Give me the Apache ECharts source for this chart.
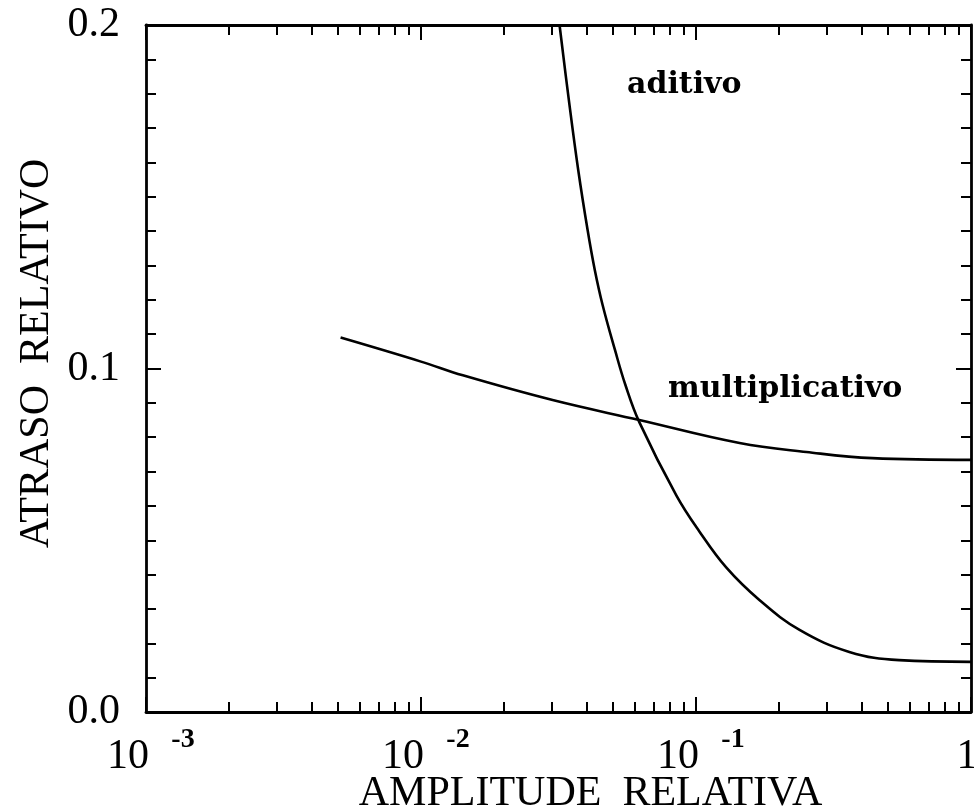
<!DOCTYPE html>
<html><head><meta charset="utf-8">
<script src="https://cdn.jsdelivr.net/npm/echarts@6/dist/echarts.min.js"></script>
<style>html,body{margin:0;padding:0;background:#fff}#c{width:974px;height:812px}</style>
</head><body><div id="c"></div>
<script>
// Data
const aditivoX = [0.0319, 0.03448, 0.0373, 0.04035, 0.04285, 0.04575, 0.05074, 0.05538, 0.0622, 0.0849, 0.103, 0.129, 0.170, 0.238, 0.361, 0.548, 1.0];
const aditivoY = [0.200, 0.1782, 0.1578, 0.1403, 0.1287, 0.1185, 0.1054, 0.0952, 0.0844, 0.063, 0.0525, 0.042, 0.0326, 0.0239, 0.0175, 0.0151, 0.0146];
const multX = [0.0051, 0.01, 0.0142, 0.0301, 0.0622, 0.144, 0.252, 0.438, 1.0];
const multY = [0.109, 0.102, 0.098, 0.0908, 0.085, 0.0783, 0.0757, 0.0739, 0.0734];
const xMajorTicks = [0.001, 0.01, 0.1, 1];
const xTickBases = ['10', '10', '10', '1'];
const xExponents = ['-3', '-2', '-1', ''];
const xMinorTicks = [0.002,0.003,0.004,0.005,0.006,0.007,0.008,0.009,
                     0.02,0.03,0.04,0.05,0.06,0.07,0.08,0.09,
                     0.2,0.3,0.4,0.5,0.6,0.7,0.8,0.9];
const yTickLabels = ['0.0', '0.1', '0.2'];
const seriesNames = ['aditivo', 'multiplicativo'];

const chart = echarts.init(document.getElementById('c'), null, {renderer: 'canvas'});
const serif = 'Liberation Serif';
const lineStyleAxis = {color: '#000', width: 2.8};

function tickIndex(v) {
  return xMajorTicks.findIndex(t => Math.abs(t - v) / t < 1e-6);
}
function baseLabel(v) {
  const i = tickIndex(v);
  if (i < 0) return '';
  return xExponents[i] ? '{n|' + xTickBases[i] + '}' : '{o|' + xTickBases[i] + '}';
}
function expLabel(v) {
  const i = tickIndex(v);
  return i < 0 ? '' : xExponents[i];
}

function xAxisDef(pos, ticks, len, kind) {
  const isMain = kind === 'main';
  let label = {show: false};
  if (pos === 'bottom' && kind === 'main') {
    label = {
      show: true, customValues: xMajorTicks, margin: 24, hideOverlap: false,
      formatter: baseLabel,
      rich: {
        n: {fontFamily: serif, fontSize: 42, color: '#000', lineHeight: 42, padding: [0, 36, 0, 0]},
        o: {fontFamily: serif, fontSize: 42, color: '#000', lineHeight: 42, padding: [0, 8, 0, 0]}
      }
    };
  } else if (pos === 'bottom' && kind === 'minor') {
    label = {
      show: true, customValues: xMajorTicks, margin: 14, hideOverlap: false,
      formatter: expLabel,
      fontFamily: serif, fontSize: 28, fontWeight: 'bold', color: '#000', lineHeight: 28,
      padding: [0, 0, 0, 74]
    };
  }
  return {
    type: 'log', logBase: 10, min: 0.001, max: 1, position: pos,
    axisLine: {show: isMain, lineStyle: lineStyleAxis, onZero: false},
    axisTick: {show: true, inside: true, length: len, customValues: ticks, lineStyle: {color: '#000', width: 2}},
    axisLabel: label,
    splitLine: {show: false},
    minorTick: {show: false},
    name: (isMain && pos === 'bottom') ? 'AMPLITUDE  RELATIVA' : '',
    nameLocation: 'middle', nameGap: 61, nameMoveOverlap: false,
    nameTextStyle: {fontFamily: serif, fontSize: 42, color: '#000', padding: [0, 0, 0, 64]}
  };
}

function yAxisDef(pos, isMain) {
  return {
    type: 'value', min: 0, max: 0.2, interval: 0.1, position: pos,
    axisLine: {show: true, lineStyle: lineStyleAxis, onZero: false},
    axisTick: {show: true, inside: true, length: 15, lineStyle: {color: '#000', width: 2}},
    minorTick: {show: true, splitNumber: 10, length: 10, lineStyle: {color: '#000', width: 2}},
    axisLabel: isMain ? {
      show: true, margin: 26, fontFamily: serif, fontSize: 42, color: '#000',
      formatter: v => yTickLabels[Math.round(v / 0.1)]
    } : {show: false},
    splitLine: {show: false},
    name: isMain ? 'ATRASO  RELATIVO' : '',
    nameLocation: 'middle', nameGap: 88, nameMoveOverlap: false,
    nameTextStyle: {fontFamily: serif, fontSize: 42, color: '#000', padding: [0, 0, 0, 30]}
  };
}

const option = {
  backgroundColor: '#fff',
  animation: false,
  grid: {left: 146, right: 3, top: 25, bottom: 100, containLabel: false, outerBoundsMode: 'none'},
  xAxis: [
    xAxisDef('bottom', xMajorTicks, 15, 'main'),
    xAxisDef('bottom', xMinorTicks, 10, 'minor'),
    xAxisDef('top', xMajorTicks, 15, 'main'),
    xAxisDef('top', xMinorTicks, 10, 'minor')
  ],
  yAxis: [yAxisDef('left', true), yAxisDef('right', false)],
  series: [
    {name: seriesNames[0], type: 'line', xAxisIndex: 0, yAxisIndex: 0, smooth: 0.4, showSymbol: false, clip: true,
     lineStyle: {color: '#000', width: 2.6}, data: aditivoX.map((x, i) => [x, aditivoY[i]])},
    {name: seriesNames[1], type: 'line', xAxisIndex: 0, yAxisIndex: 0, smooth: 0.4, showSymbol: false, clip: true,
     lineStyle: {color: '#000', width: 2.6}, data: multX.map((x, i) => [x, multY[i]])}
  ],
  graphic: [
    {type: 'text', x: 627, y: 85, style: {text: 'aditivo', font: 'bold 30px "DejaVu Serif"', fill: '#000', verticalAlign: 'middle'}},
    {type: 'text', x: 668, y: 389, style: {text: 'multiplicativo', font: 'bold 30px "DejaVu Serif"', fill: '#000', verticalAlign: 'middle'}}
  ]
};
chart.setOption(option);
</script></body></html>
